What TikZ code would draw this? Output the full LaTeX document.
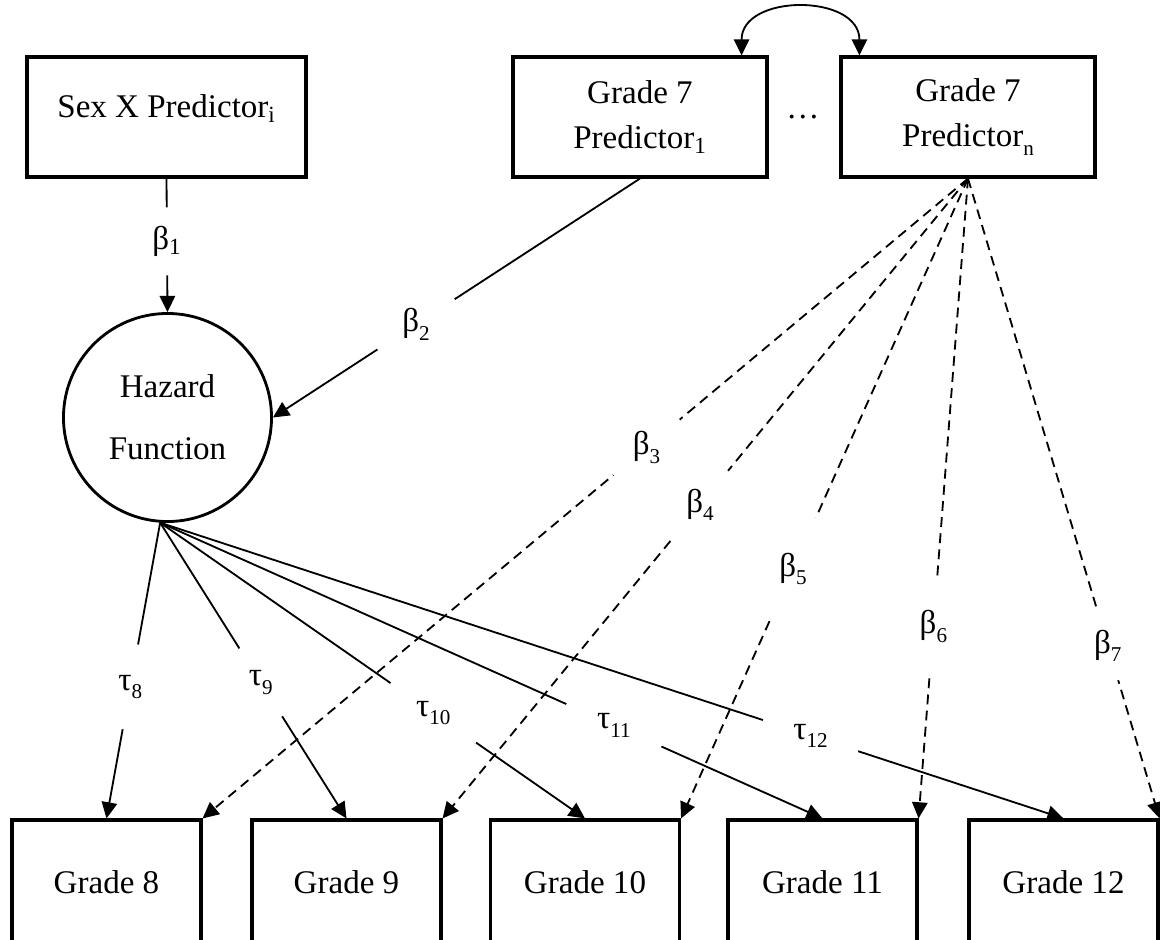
\documentclass[tikz,border=0pt]{standalone}
\usepackage{fontspec}
\setmainfont{Liberation Serif}
\usetikzlibrary{arrows.meta}
\definecolor{ink}{HTML}{000000}
\newcommand{\lowsub}[1]{\raisebox{-.55ex}{\fontsize{15pt}{15pt}\selectfont #1}}

\begin{document}
\begin{tikzpicture}[
  x=.025cm,y=-.025cm,
  font=\fontsize{23.5pt}{32pt}\selectfont,
  >={Triangle[length=11.5pt,width=11pt]},
  box/.style={draw=ink, line width=2.2pt, minimum height=3cm, inner sep=0pt, text=ink},
  hazard/.style={draw=ink, circle, line width=2pt, minimum size=5.2cm, inner sep=0pt, align=center},
  link/.style={draw=ink, line width=1.3pt},
  dlink/.style={link, dash pattern=on 7pt off 4.5pt},
  coef/.style={circle, fill=white, inner sep=0pt, minimum size=2.2cm, text=ink}
]
\useasboundingbox (0,0) rectangle (1160,940);

% top row: predictors
\node[box,minimum width=6.975cm,text depth=.55cm] (sex) at (166.5,117) {Sex X Predictor\textsubscript{i}};
\node[box,minimum width=6.35cm,align=center] (p1) at (640,117) {Grade 7\\Predictor\textsubscript{1}};
\node[box,minimum width=6.35cm,align=center] (pn) at (968,117) {Grade 7\\Predictor\lowsub{n}};
\node (dots) at (803,117) {\dots};

% covariance between grade 7 predictors
\draw[link,<->] ([xshift=-.675cm]p1.north east) to[out=90,in=90,looseness=1.35] ([xshift=.5cm]pn.north west);

% latent hazard
\node[hazard] (hz) at (167.5,417.5) {Hazard\\[.425cm]Function};

% grade outcomes
\foreach \g/\x in {8/106.5,9/346.5,10/585,11/822.5,12/1063.5}
  \node[box,minimum width=4.725cm,minimum height=3.1cm] (g\g) at (\x,882) {Grade \g};

% predictor effects on the hazard
\draw[link,->] (sex.south) -- node[coef,pos=.47,minimum size=1.7cm] (b1) {β\textsubscript{1}} (hz.north);
\draw[link,->] (p1.south) -- node[coef,pos=.61,minimum size=2.3cm] (b2) {β\lowsub{2}} (hz.east);

% thresholds
\foreach \g/\p/\s in {8/.555/2.15cm,9/.54/2cm,10/.643/2.6cm,11/.685/2.6cm,12/.72/2.5cm}
  \draw[link,->] (hz.266) -- node[coef,pos=\p,minimum size=\s] (t\g) {τ\lowsub{\g}} (g\g.north);

% direct grade 7 effects on each grade
\foreach \b/\g/\p/\s in {3/8/.42/2.15cm,4/9/.51/2.2cm,5/10/.61/2.8cm,6/11/.70/2.45cm,7/12/.73/1.8cm}
  \draw[dlink,->] (pn.south) -- node[coef,pos=\p,minimum size=\s] (b\b) {β\lowsub{\b}} (g\g.north east);

\end{tikzpicture}
\end{document}
